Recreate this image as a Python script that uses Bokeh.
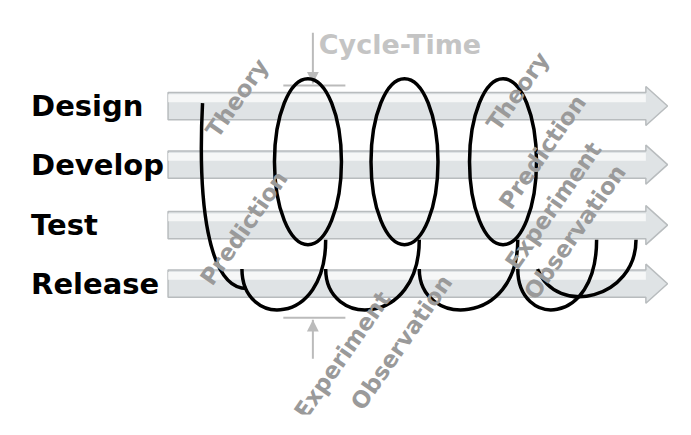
import numpy as np
from bokeh.plotting import figure
from bokeh.models import Range1d
from bokeh.core.properties import value
from bokeh.embed import file_html
from bokeh.resources import INLINE

W, H = 675, 419
stages = ["Design", "Develop", "Test", "Release"]
stage_y = [103, 163, 225, 285]          # reference pixel rows
phases = ["Theory", "Prediction", "Experiment", "Observation"]
phase_left = [(235, 95), (242, 228), (342, 358), (402, 345)]
phase_right = [(520, 88), (545, 150), (556, 205), (578, 232)]
loop_x = [307, 405, 505]

def Y(py): return H - py

p = figure(width=W, height=H, output_backend="svg", toolbar_location=None,
           x_range=Range1d(0, W), y_range=Range1d(0, H))
p.axis.visible = False
p.grid.visible = False
p.outline_line_color = None
p.background_fill_color = "white"

for sy in stage_y:
    xs = [165, 650, 650, 672, 650, 650, 165]
    ys = [sy - 14, sy - 14, sy - 20, sy, sy + 20, sy + 14, sy + 14]
    p.patch(xs, [Y(v) for v in ys], fill_color="#dfe3e5", line_color="#b8bcbe", line_width=1.5)
    p.patch([165, 650, 650, 165], [Y(sy - 12), Y(sy - 12), Y(sy - 4), Y(sy - 4)],
            fill_color="white", fill_alpha=0.7, line_color=None)

for s, sy in zip(stages, stage_y):
    p.text([26], [Y(sy)], text=[s], text_font=value("DejaVu Sans"),
           text_font_style="bold", text_font_size="29px", text_baseline="middle",
           text_color="black")

p.text([318], [Y(40)], text=["Cycle-Time"], text_font=value("DejaVu Sans"),
       text_font_style="bold", text_font_size="27px", text_baseline="middle", text_color="#c4c4c4")
p.segment([312, 282, 312, 282], [Y(28), Y(82), Y(362), Y(320)],
          [312, 345, 312, 345], [Y(80), Y(82), Y(322), Y(320)], line_color="#bbbbbb", line_width=2)
p.patch([306, 318, 312], [Y(68), Y(68), Y(80)], fill_color="#bbbbbb", line_color=None)
p.patch([306, 318, 312], [Y(334), Y(334), Y(322)], fill_color="#bbbbbb", line_color=None)

for lx in loop_x:
    p.ellipse([lx], [Y(160)], width=68, height=170, fill_alpha=0, line_color="black", line_width=3.5)
starts = [200, 285, 380, 480, 560]
for i, sx in enumerate(starts[:-1]):
    ex = starts[i + 1] + 50
    p.bezier(x0=[sx + 40], y0=[Y(270)], x1=[ex - 10], y1=[Y(240)],
             cx0=[sx + 40], cy0=[Y(330)], cx1=[ex - 10], cy1=[Y(330)], line_color="black", line_width=3.5)
p.bezier(x0=[200], y0=[Y(100)], x1=[245], y1=[Y(290)], cx0=[195], cy0=[Y(200)],
         cx1=[205], cy1=[Y(290)], line_color="black", line_width=3.5)
p.bezier(x0=[540], y0=[Y(270)], x1=[640], y1=[Y(240)], cx0=[560], cy0=[Y(320)],
         cx1=[640], cy1=[Y(300)], line_color="black", line_width=3.5)

ang = np.deg2rad(55)
for (ph, (x, y)) in list(zip(phases, phase_left)) + list(zip(phases, phase_right)):
    p.text([x], [Y(y)], text=[ph], angle=ang, text_align="center", text_baseline="middle",
           text_font=value("DejaVu Sans"), text_font_style="bold", text_font_size="23px",
           text_color="#9a9a9a")

open("out.html", "w").write(file_html(p, INLINE))
